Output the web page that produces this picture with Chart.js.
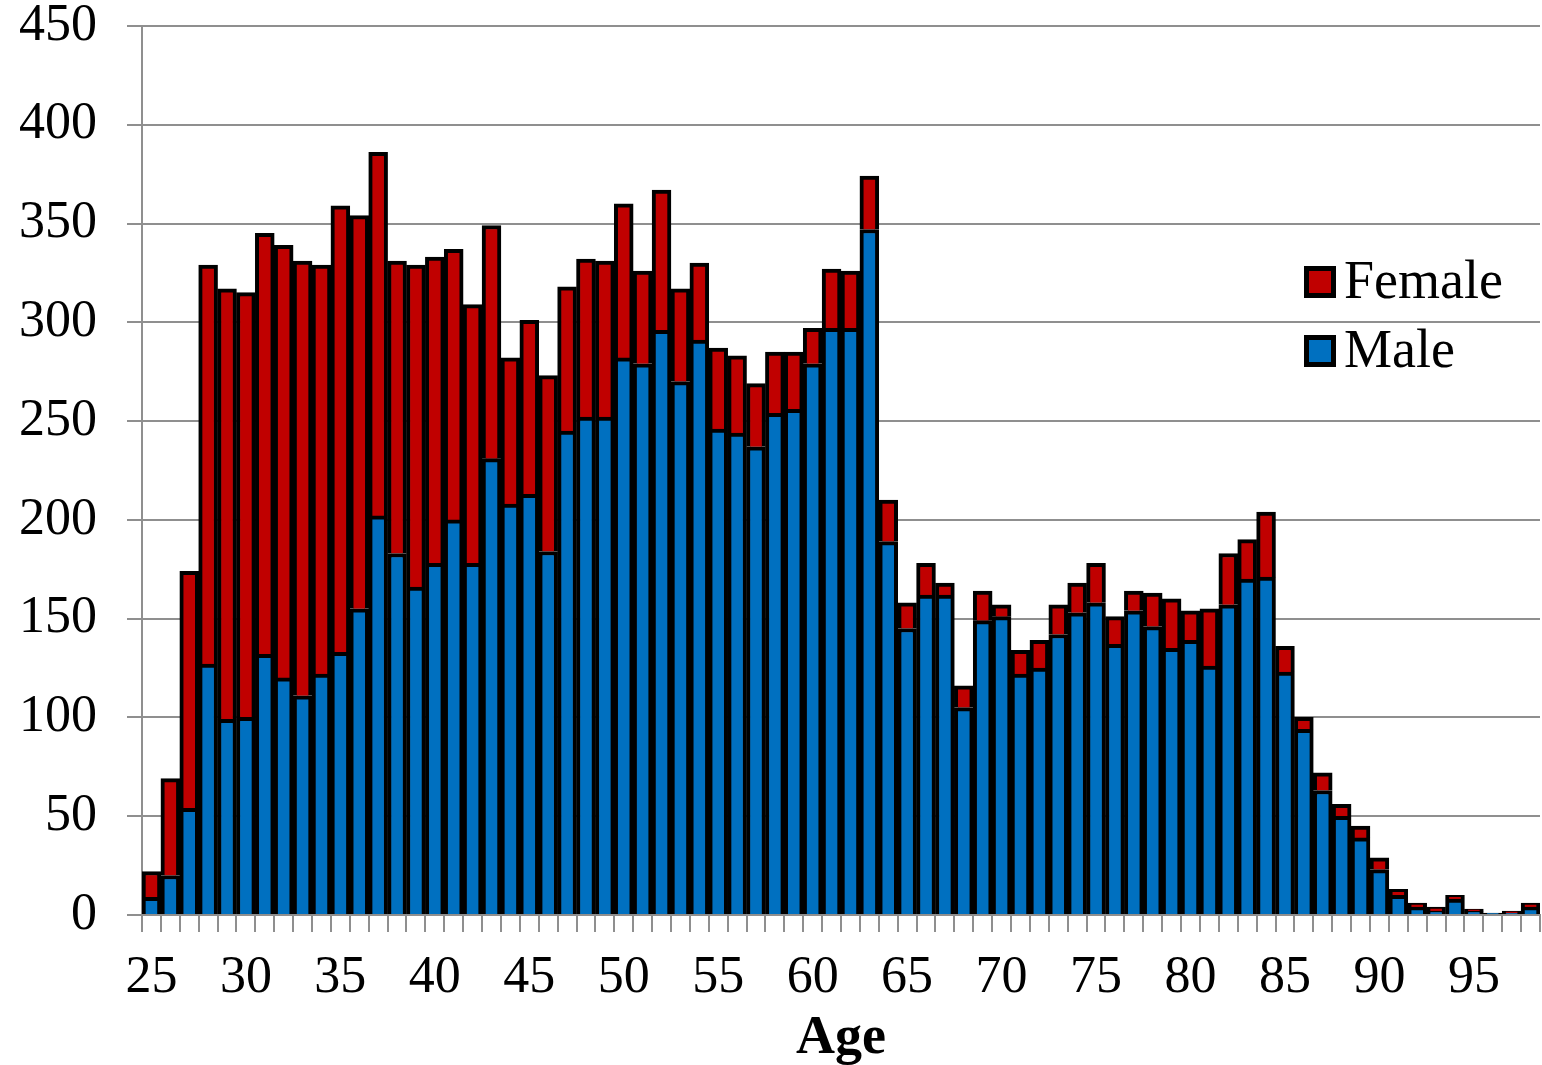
<!DOCTYPE html>
<html>
<head>
<meta charset="utf-8">
<script src="https://cdn.jsdelivr.net/npm/chart.js@4.4.1/dist/chart.umd.min.js"></script>
<style>
  html, body { margin: 0; padding: 0; background: #ffffff; }
  #wrap { width: 1542px; height: 1065px; position: relative; }
</style>
</head>
<body>
<div id="wrap"><canvas id="c" width="1542" height="1065"></canvas></div>
<script>
const ages = [25,26,27,28,29,30,31,32,33,34,35,36,37,38,39,40,41,42,43,44,45,46,47,48,49,
  50,51,52,53,54,55,56,57,58,59,60,61,62,63,64,65,66,67,68,69,70,71,72,73,74,
  75,76,77,78,79,80,81,82,83,84,85,86,87,88,89,90,91,92,93,94,95,96,97,98];

const male = [9,20,54,127,99,100,132,120,111,122,133,155,202,183,166,178,200,178,231,208,213,184,245,252,252,
  282,279,296,270,291,246,244,237,254,256,279,297,297,347,189,145,162,162,105,149,151,122,125,142,153,
  158,137,154,146,135,139,126,157,170,171,123,94,63,50,39,23,10,4,2,8,2,1,1,4];

const female = [13,49,120,202,218,215,213,219,220,207,226,199,184,148,163,155,137,131,118,74,88,89,73,80,79,
  78,47,71,47,39,41,39,32,31,29,18,30,29,27,21,13,16,6,11,15,6,12,14,15,15,
  20,14,10,17,25,15,29,26,20,33,13,6,9,6,6,6,3,2,2,2,1,0,1,2];

const yTicks = [0,50,100,150,200,250,300,350,400,450];
const seriesNames = ['Male', 'Female'];
const seriesColors = ['#0070C0', '#C00000'];
const xTitle = 'Age';

const FONT = "'Liberation Serif', 'Times New Roman', serif";
const GRID = '#8f8f8f';

const legendPlugin = {
  id: 'insideLegend',
  afterDraw(chart) {
    const ctx = chart.ctx;
    const area = chart.chartArea;
    const ds = chart.data.datasets.slice().reverse();
    ctx.save();
    ds.forEach((d, i) => {
      const boxX = area.right - 236;
      const cy = 282 + i * 69;
      ctx.fillStyle = '#000';
      ctx.fillRect(boxX, cy - 16, 32, 32);
      ctx.fillStyle = d.backgroundColor;
      ctx.fillRect(boxX + 5, cy - 11, 22, 22);
      ctx.fillStyle = '#000';
      ctx.font = '54px ' + FONT;
      ctx.textBaseline = 'middle';
      ctx.textAlign = 'left';
      ctx.fillText(d.label, boxX + 40, cy + 2);
    });
    ctx.restore();
  }
};

new Chart(document.getElementById('c'), {
  type: 'bar',
  data: {
    labels: ages.map(String),
    datasets: [
      {
        label: seriesNames[0],
        data: male,
        backgroundColor: seriesColors[0],
        borderColor: '#000000',
        borderWidth: 4,
        borderSkipped: 'bottom',
        barPercentage: 1,
        categoryPercentage: 1
      },
      {
        label: seriesNames[1],
        data: female,
        backgroundColor: seriesColors[1],
        borderColor: '#000000',
        borderWidth: 4,
        borderSkipped: 'bottom',
        barPercentage: 1,
        categoryPercentage: 1
      }
    ]
  },
  options: {
    responsive: false,
    devicePixelRatio: 1,
    animation: false,
    layout: { padding: { top: 1, right: 2, left: 0, bottom: 0 } },
    plugins: {
      legend: { display: false },
      tooltip: { enabled: false }
    },
    scales: {
      x: {
        stacked: true,
        grid: {
          display: true,
          drawOnChartArea: false,
          drawTicks: true,
          tickLength: 17,
          color: GRID,
          lineWidth: 2,
          offset: true
        },
        border: { display: true, color: GRID, width: 2 },
        ticks: {
          autoSkip: false,
          maxRotation: 0,
          minRotation: 0,
          padding: 15,
          color: '#000',
          font: { family: FONT, size: 52 },
          callback: function(val, idx) {
            const a = ages[idx];
            return a % 5 === 0 ? String(a) : '';
          }
        },
        title: {
          display: true,
          text: xTitle,
          color: '#000',
          font: { family: FONT, size: 54, weight: 'bold', lineHeight: 0.95 },
          padding: { top: 0, bottom: 0 }
        },
        afterFit(scale) {
          scale.height = 150;
          scale.paddingLeft = 0;
          scale.paddingRight = 0;
        }
      },
      y: {
        stacked: true,
        min: 0,
        max: 450,
        afterBuildTicks(scale) { scale.ticks = yTicks.map(v => ({ value: v })); },
        grid: {
          color: GRID,
          lineWidth: 2,
          drawTicks: true,
          tickLength: 15
        },
        border: { display: true, color: GRID, width: 2 },
        ticks: {
          padding: 30,
          color: '#000',
          font: { family: FONT, size: 52, lineHeight: 1 }
        },
        afterFit(scale) {
          scale.width = 142;
          scale.paddingTop = 26;
          scale.paddingBottom = 0;
        }
      }
    }
  },
  plugins: [legendPlugin]
});
</script>
</body>
</html>
